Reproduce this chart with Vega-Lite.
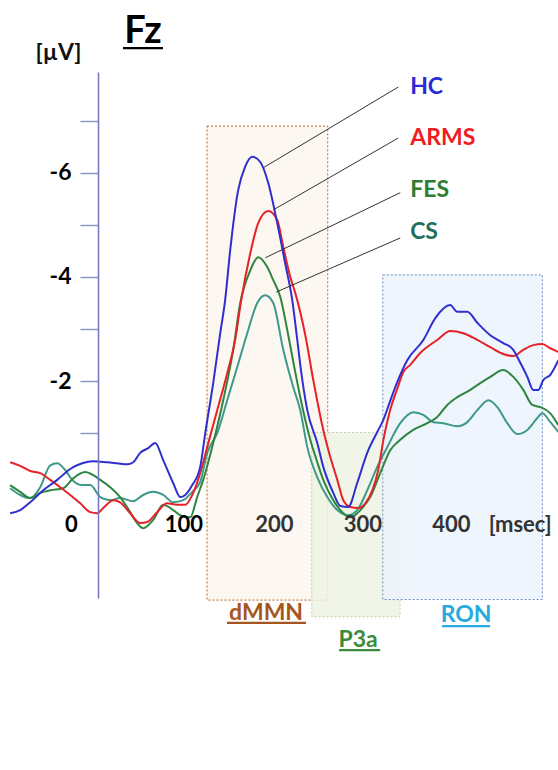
{
  "$schema": "https://vega.github.io/schema/vega-lite/v6.json",
  "width": 548,
  "height": 526,
  "autosize": {"type": "none"},
  "padding": {"left": 10, "top": 72, "right": 0, "bottom": 172},
  "background": "white",
  "config": {"view": {"stroke": null}, "font": "Lato"},
  "encoding": {
    "x": {"field": "t", "type": "quantitative", "scale": {"domain": [-94, 492], "nice": false, "zero": false},
      "axis": {"title": null, "orient": "bottom", "offset": -74, "zindex": 1, "values": [0, 100, 200, 300, 400, 451], "domain": false, "ticks": false, "tickSize": 0, "grid": false, "labelPadding": 0, "labelBaseline": "middle", "labelFlush": false, "labelOverlap": false, "labelBound": false,
        "labelExpr": "datum.value == 451 ? '[msec]' : datum.label",
        "labelOffset": {"condition": [{"test": "datum.value == 0", "value": -27}, {"test": "datum.value == 100", "value": -8}, {"test": "datum.value == 200", "value": -11}, {"test": "datum.value == 300", "value": -16}, {"test": "datum.value == 400", "value": -21}], "value": 0},
        "labelFont": "Lato", "labelFontSize": 22, "labelFontWeight": "bold", "labelColor": {"condition": {"test": "datum.value <= 100", "value": "#000000"}, "value": "#333333"}}},
    "y": {"field": "v", "type": "quantitative", "scale": {"domain": [-7.94, 2.17], "reverse": true, "nice": false, "zero": false},
      "axis": {"title": "[µV]", "orient": "left", "offset": -88, "zindex": 1, "values": [-7, -6, -5, -4, -3, -2, -1], "grid": false, "domainColor": "#7575bd", "domainWidth": 1.5, "tickColor": "#8c9ac0", "tickWidth": 1.5, "tickSize": 18, "labelPadding": 9,
        "labelExpr": "datum.value % 2 == 0 ? '-' + abs(datum.value) : ''",
        "labelFont": "Lato", "labelFontSize": 23, "labelFontWeight": "bold", "labelColor": "#000",
        "titleAngle": 0, "titleX": -40, "titleY": -20, "titleAlign": "center", "titleBaseline": "middle", "titleFont": "Lato", "titleFontSize": 23, "titleFontWeight": "bold", "titleColor": "#111"}}
  },
  "resolve": {"scale": {"color": "independent", "fill": "independent", "stroke": "independent"}},
  "layer": [
    {
      "data": {"values": [
        {"box": "dMMN", "t": 116.7, "t2": 245.8, "v": -6.9, "v2": 2.21},
        {"box": "P3a", "t": 228.7, "t2": 323.1, "v": -1.01, "v2": 2.53},
        {"box": "RON", "t": 304.6, "t2": 475.3, "v": -4.04, "v2": 2.2}
      ]},
      "mark": {"type": "rect", "strokeWidth": 1, "strokeDash": [2, 2], "fillOpacity": 0.85},
      "encoding": {
        "x2": {"field": "t2"},
        "y2": {"field": "v2"},
        "fill": {"field": "box", "type": "nominal", "scale": {"domain": ["dMMN", "P3a", "RON"], "range": ["#fdf6ef", "#edf3e3", "#ecf3fb"]}, "legend": null},
        "stroke": {"field": "box", "type": "nominal", "scale": {"domain": ["dMMN", "P3a", "RON"], "range": ["#b5651d", "#bfd0a0", "#6c8ebf"]}, "legend": null}
      }
    },
    {
      "data": {"values": [{"t": 100}, {"t": 200}, {"t": 300}, {"t": 400}]},
      "mark": {"type": "rule", "color": "#9a9a9a", "strokeWidth": 1.2, "strokeDash": [3, 3]},
      "encoding": {"y": {"datum": -7.9}, "y2": {"datum": 2.17}}
    },
    {
      "data": {"values": [{"t": -94}]},
      "mark": {"type": "rule", "color": "#444444", "strokeWidth": 1.2},
      "encoding": {"x2": {"datum": 492}, "y": {"datum": 0}}
    },
    {
      "data": {"values": [
        {"g":"CS","t":-93.8,"v":0.06},{"g":"CS","t":-83.1,"v":0.19},{"g":"CS","t":-72.4,"v":0.25},{"g":"CS","t":-61.7,"v":0.04},{"g":"CS","t":-51.0,"v":-0.38},{"g":"CS","t":-43.5,"v":-0.42},{"g":"CS","t":-35.0,"v":-0.29},{"g":"CS","t":-27.5,"v":-0.1},{"g":"CS","t":-16.8,"v":0.0},{"g":"CS","t":-8.2,"v":0.0},{"g":"CS","t":2.5,"v":0.23},{"g":"CS","t":13.2,"v":0.29},{"g":"CS","t":23.8,"v":0.25},{"g":"CS","t":37.8,"v":0.31},{"g":"CS","t":48.4,"v":0.19},{"g":"CS","t":59.1,"v":0.13},{"g":"CS","t":69.8,"v":0.19},{"g":"CS","t":80.5,"v":0.33},{"g":"CS","t":91.2,"v":0.29},{"g":"CS","t":100.9,"v":0.13},{"g":"CS","t":109.4,"v":-0.06},{"g":"CS","t":116.9,"v":-0.62},{"g":"CS","t":127.6,"v":-1.0},{"g":"CS","t":138.3,"v":-1.63},{"g":"CS","t":149.0,"v":-2.27},{"g":"CS","t":159.7,"v":-2.92},{"g":"CS","t":170.4,"v":-3.5},{"g":"CS","t":178.9,"v":-3.65},{"g":"CS","t":187.5,"v":-3.5},{"g":"CS","t":198.2,"v":-2.6},{"g":"CS","t":208.9,"v":-1.88},{"g":"CS","t":216.4,"v":-1.44},{"g":"CS","t":223.9,"v":-0.73},{"g":"CS","t":234.6,"v":-0.15},{"g":"CS","t":245.3,"v":0.23},{"g":"CS","t":256.0,"v":0.48},{"g":"CS","t":266.7,"v":0.58},{"g":"CS","t":277.3,"v":0.48},{"g":"CS","t":288.0,"v":0.1},{"g":"CS","t":298.7,"v":-0.35},{"g":"CS","t":309.4,"v":-0.73},{"g":"CS","t":323.3,"v":-1.19},{"g":"CS","t":337.2,"v":-1.4},{"g":"CS","t":348.0,"v":-1.35},{"g":"CS","t":358.7,"v":-1.21},{"g":"CS","t":369.4,"v":-1.19},{"g":"CS","t":384.3,"v":-1.13},{"g":"CS","t":395.0,"v":-1.21},{"g":"CS","t":405.7,"v":-1.44},{"g":"CS","t":417.5,"v":-1.63},{"g":"CS","t":427.1,"v":-1.5},{"g":"CS","t":437.8,"v":-1.19},{"g":"CS","t":448.5,"v":-0.98},{"g":"CS","t":459.2,"v":-1.06},{"g":"CS","t":469.9,"v":-1.29},{"g":"CS","t":475.2,"v":-1.38},{"g":"CS","t":483.8,"v":-1.21},{"g":"CS","t":492.4,"v":-1.02},
        {"g":"FES","t":-93.8,"v":0.0},{"g":"FES","t":-83.1,"v":0.13},{"g":"FES","t":-72.4,"v":0.25},{"g":"FES","t":-61.7,"v":0.15},{"g":"FES","t":-51.0,"v":0.1},{"g":"FES","t":-37.1,"v":0.06},{"g":"FES","t":-26.4,"v":-0.13},{"g":"FES","t":-13.6,"v":-0.25},{"g":"FES","t":-5.0,"v":-0.19},{"g":"FES","t":2.5,"v":-0.1},{"g":"FES","t":13.2,"v":0.04},{"g":"FES","t":23.8,"v":0.23},{"g":"FES","t":34.5,"v":0.52},{"g":"FES","t":42.0,"v":0.73},{"g":"FES","t":48.4,"v":0.83},{"g":"FES","t":59.1,"v":0.67},{"g":"FES","t":69.8,"v":0.38},{"g":"FES","t":80.5,"v":0.48},{"g":"FES","t":90.2,"v":0.6},{"g":"FES","t":98.7,"v":0.62},{"g":"FES","t":106.2,"v":0.23},{"g":"FES","t":112.6,"v":-0.1},{"g":"FES","t":123.3,"v":-0.81},{"g":"FES","t":134.0,"v":-1.63},{"g":"FES","t":144.7,"v":-2.6},{"g":"FES","t":152.2,"v":-3.5},{"g":"FES","t":163.0,"v":-4.13},{"g":"FES","t":171.5,"v":-4.38},{"g":"FES","t":181.1,"v":-4.19},{"g":"FES","t":187.5,"v":-3.94},{"g":"FES","t":195.0,"v":-3.62},{"g":"FES","t":202.5,"v":-2.98},{"g":"FES","t":208.9,"v":-2.37},{"g":"FES","t":216.4,"v":-1.69},{"g":"FES","t":227.1,"v":-0.87},{"g":"FES","t":234.6,"v":-0.44},{"g":"FES","t":241.0,"v":-0.1},{"g":"FES","t":251.7,"v":0.29},{"g":"FES","t":262.4,"v":0.54},{"g":"FES","t":269.9,"v":0.62},{"g":"FES","t":277.3,"v":0.54},{"g":"FES","t":283.7,"v":0.42},{"g":"FES","t":291.2,"v":0.23},{"g":"FES","t":301.9,"v":-0.23},{"g":"FES","t":312.6,"v":-0.67},{"g":"FES","t":323.3,"v":-0.87},{"g":"FES","t":337.2,"v":-1.06},{"g":"FES","t":352.2,"v":-1.19},{"g":"FES","t":362.9,"v":-1.31},{"g":"FES","t":373.6,"v":-1.54},{"g":"FES","t":384.3,"v":-1.69},{"g":"FES","t":398.2,"v":-1.83},{"g":"FES","t":408.9,"v":-1.96},{"g":"FES","t":419.6,"v":-2.08},{"g":"FES","t":433.5,"v":-2.21},{"g":"FES","t":444.2,"v":-2.08},{"g":"FES","t":454.9,"v":-1.83},{"g":"FES","t":464.5,"v":-1.54},{"g":"FES","t":473.1,"v":-1.5},{"g":"FES","t":483.8,"v":-1.38},{"g":"FES","t":492.4,"v":-1.15},
        {"g":"ARMS","t":-93.8,"v":-0.44},{"g":"ARMS","t":-83.1,"v":-0.37},{"g":"ARMS","t":-72.4,"v":-0.27},{"g":"ARMS","t":-61.7,"v":-0.23},{"g":"ARMS","t":-51.0,"v":-0.1},{"g":"ARMS","t":-40.3,"v":0.04},{"g":"ARMS","t":-29.6,"v":0.19},{"g":"ARMS","t":-18.9,"v":0.35},{"g":"ARMS","t":-8.2,"v":0.52},{"g":"ARMS","t":-0.7,"v":0.54},{"g":"ARMS","t":5.7,"v":0.44},{"g":"ARMS","t":16.4,"v":0.29},{"g":"ARMS","t":23.8,"v":0.33},{"g":"ARMS","t":34.5,"v":0.54},{"g":"ARMS","t":45.2,"v":0.73},{"g":"ARMS","t":52.7,"v":0.71},{"g":"ARMS","t":63.4,"v":0.52},{"g":"ARMS","t":74.1,"v":0.35},{"g":"ARMS","t":84.8,"v":0.38},{"g":"ARMS","t":93.4,"v":0.38},{"g":"ARMS","t":100.9,"v":0.19},{"g":"ARMS","t":109.4,"v":-0.23},{"g":"ARMS","t":116.9,"v":-0.73},{"g":"ARMS","t":127.6,"v":-1.44},{"g":"ARMS","t":138.3,"v":-2.15},{"g":"ARMS","t":146.8,"v":-2.79},{"g":"ARMS","t":153.3,"v":-3.56},{"g":"ARMS","t":163.0,"v":-4.46},{"g":"ARMS","t":171.5,"v":-5.04},{"g":"ARMS","t":182.1,"v":-5.27},{"g":"ARMS","t":191.7,"v":-5.1},{"g":"ARMS","t":198.2,"v":-4.58},{"g":"ARMS","t":205.7,"v":-4.0},{"g":"ARMS","t":211.1,"v":-3.69},{"g":"ARMS","t":221.8,"v":-2.88},{"g":"ARMS","t":230.3,"v":-2.02},{"g":"ARMS","t":241.0,"v":-1.06},{"g":"ARMS","t":248.5,"v":-0.54},{"g":"ARMS","t":256.0,"v":-0.1},{"g":"ARMS","t":262.4,"v":0.29},{"g":"ARMS","t":269.9,"v":0.42},{"g":"ARMS","t":278.4,"v":0.44},{"g":"ARMS","t":285.9,"v":0.35},{"g":"ARMS","t":293.4,"v":0.1},{"g":"ARMS","t":299.8,"v":-0.29},{"g":"ARMS","t":305.1,"v":-0.85},{"g":"ARMS","t":312.6,"v":-1.45},{"g":"ARMS","t":320.1,"v":-1.85},{"g":"ARMS","t":326.5,"v":-2.17},{"g":"ARMS","t":334.0,"v":-2.31},{"g":"ARMS","t":344.7,"v":-2.54},{"g":"ARMS","t":362.9,"v":-2.79},{"g":"ARMS","t":376.8,"v":-2.96},{"g":"ARMS","t":390.7,"v":-2.92},{"g":"ARMS","t":405.7,"v":-2.79},{"g":"ARMS","t":419.6,"v":-2.65},{"g":"ARMS","t":433.5,"v":-2.52},{"g":"ARMS","t":444.2,"v":-2.48},{"g":"ARMS","t":454.9,"v":-2.6},{"g":"ARMS","t":465.6,"v":-2.69},{"g":"ARMS","t":475.2,"v":-2.71},{"g":"ARMS","t":483.8,"v":-2.63},{"g":"ARMS","t":492.4,"v":-2.56},
        {"g":"HC","t":-93.8,"v":0.54},{"g":"HC","t":-83.1,"v":0.48},{"g":"HC","t":-72.4,"v":0.33},{"g":"HC","t":-58.5,"v":0.1},{"g":"HC","t":-43.5,"v":-0.1},{"g":"HC","t":-29.6,"v":-0.31},{"g":"HC","t":-16.8,"v":-0.42},{"g":"HC","t":-5.0,"v":-0.46},{"g":"HC","t":9.9,"v":-0.44},{"g":"HC","t":20.6,"v":-0.42},{"g":"HC","t":31.3,"v":-0.4},{"g":"HC","t":37.8,"v":-0.44},{"g":"HC","t":45.2,"v":-0.62},{"g":"HC","t":53.8,"v":-0.71},{"g":"HC","t":61.3,"v":-0.81},{"g":"HC","t":69.8,"v":-0.48},{"g":"HC","t":80.5,"v":-0.04},{"g":"HC","t":88.0,"v":0.23},{"g":"HC","t":93.4,"v":0.19},{"g":"HC","t":100.9,"v":0.0},{"g":"HC","t":109.4,"v":-0.35},{"g":"HC","t":114.8,"v":-1.0},{"g":"HC","t":123.3,"v":-1.96},{"g":"HC","t":130.8,"v":-2.92},{"g":"HC","t":136.1,"v":-3.56},{"g":"HC","t":141.5,"v":-4.52},{"g":"HC","t":150.0,"v":-5.67},{"g":"HC","t":157.5,"v":-6.12},{"g":"HC","t":165.0,"v":-6.31},{"g":"HC","t":173.6,"v":-6.21},{"g":"HC","t":182.1,"v":-5.81},{"g":"HC","t":191.7,"v":-5.04},{"g":"HC","t":200.4,"v":-4.25},{"g":"HC","t":207.8,"v":-3.56},{"g":"HC","t":213.2,"v":-2.79},{"g":"HC","t":216.4,"v":-2.31},{"g":"HC","t":223.9,"v":-1.44},{"g":"HC","t":234.6,"v":-0.81},{"g":"HC","t":241.0,"v":-0.35},{"g":"HC","t":251.7,"v":0.15},{"g":"HC","t":259.2,"v":0.4},{"g":"HC","t":267.7,"v":0.42},{"g":"HC","t":277.3,"v":-0.04},{"g":"HC","t":288.0,"v":-0.62},{"g":"HC","t":298.7,"v":-1.02},{"g":"HC","t":305.1,"v":-1.25},{"g":"HC","t":312.6,"v":-1.62},{"g":"HC","t":320.1,"v":-1.98},{"g":"HC","t":330.8,"v":-2.4},{"g":"HC","t":348.0,"v":-2.79},{"g":"HC","t":360.8,"v":-3.21},{"g":"HC","t":376.8,"v":-3.46},{"g":"HC","t":384.3,"v":-3.33},{"g":"HC","t":395.0,"v":-3.33},{"g":"HC","t":405.7,"v":-3.12},{"g":"HC","t":419.6,"v":-2.88},{"g":"HC","t":433.5,"v":-2.73},{"g":"HC","t":444.2,"v":-2.6},{"g":"HC","t":451.7,"v":-2.35},{"g":"HC","t":459.2,"v":-2.08},{"g":"HC","t":465.6,"v":-1.83},{"g":"HC","t":471.0,"v":-1.83},{"g":"HC","t":476.3,"v":-2.02},{"g":"HC","t":483.8,"v":-2.12},{"g":"HC","t":492.4,"v":-2.4}
      ]},
      "mark": {"type": "line", "strokeWidth": 2, "interpolate": "monotone"},
      "encoding": {
        "color": {"field": "g", "type": "nominal", "scale": {"domain": ["HC", "ARMS", "FES", "CS"], "range": ["#2f2fcf", "#e52228", "#2e8540", "#3d998a"]}, "legend": null},
        "order": {"field": "t", "type": "quantitative"}
      }
    },
    {
      "data": {"values": [
        {"t": 176.9, "v": -6.1, "t2": 321.1, "v2": -7.65},
        {"t": 187.6, "v": -5.29, "t2": 321.1, "v2": -6.67},
        {"t": 179.1, "v": -4.37, "t2": 323.3, "v2": -5.62},
        {"t": 190.7, "v": -3.71, "t2": 323.3, "v2": -4.75}
      ]},
      "mark": {"type": "rule", "color": "#333333", "strokeWidth": 1},
      "encoding": {"x2": {"field": "t2"}, "y2": {"field": "v2"}}
    },
    {
      "data": {"values": [
        {"g": "HC", "t": 333.9, "v": -7.65},
        {"g": "ARMS", "t": 333.9, "v": -6.67},
        {"g": "FES", "t": 333.9, "v": -5.67},
        {"g": "CS", "t": 333.9, "v": -4.87}
      ]},
      "mark": {"type": "text", "align": "left", "baseline": "middle", "font": "Lato", "fontSize": 23, "fontWeight": "bold"},
      "encoding": {
        "text": {"field": "g"},
        "color": {"field": "g", "type": "nominal", "scale": {"domain": ["HC", "ARMS", "FES", "CS"], "range": ["#2a2ad6", "#f01c24", "#2e7d32", "#1f6f5c"]}, "legend": null}
      }
    },
    {
      "data": {"values": [
        {"box": "dMMN", "t": 179.8, "v": 2.46},
        {"box": "P3a", "t": 278.2, "v": 2.98},
        {"box": "RON", "t": 393.7, "v": 2.5}
      ]},
      "mark": {"type": "text", "align": "center", "baseline": "middle", "font": "Lato", "fontSize": 23, "fontWeight": "bold"},
      "encoding": {
        "text": {"field": "box"},
        "color": {"field": "box", "type": "nominal", "scale": {"domain": ["dMMN", "P3a", "RON"], "range": ["#a5561e", "#3a8a3a", "#27a9e1"]}, "legend": null}
      }
    },
    {
      "data": {"values": [{"label": "Fz", "t": 48.2, "v": -8.5}]},
      "mark": {"type": "text", "align": "center", "baseline": "alphabetic", "font": "Lato", "fontSize": 38, "fontWeight": "bold", "color": "#000000"},
      "encoding": {"text": {"field": "label"}}
    },
    {
      "data": {"values": [
        {"name": "Fz", "t": 26.8, "t2": 69.6, "v": -8.4},
        {"name": "dMMN", "t": 138, "t2": 222.6, "v": 2.65},
        {"name": "P3a", "t": 257.9, "t2": 301.8, "v": 3.17},
        {"name": "RON", "t": 368, "t2": 419.4, "v": 2.71}
      ]},
      "mark": {"type": "rule", "strokeWidth": 2.2},
      "encoding": {
        "x2": {"field": "t2"},
        "color": {"field": "name", "type": "nominal", "scale": {"domain": ["Fz", "dMMN", "P3a", "RON"], "range": ["#000000", "#a5561e", "#3a8a3a", "#27a9e1"]}, "legend": null}
      }
    }
  ]
}
